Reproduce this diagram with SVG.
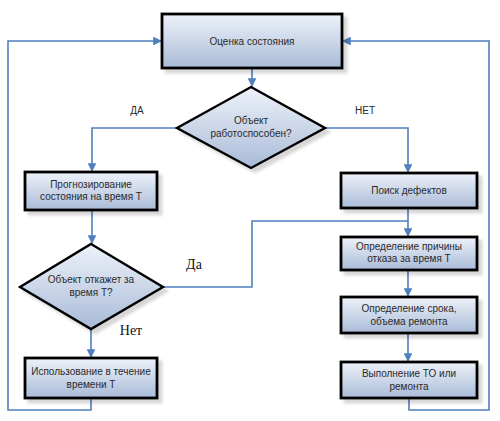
<svg xmlns="http://www.w3.org/2000/svg" width="500" height="421" viewBox="0 0 500 421">
<style>
.box{fill:url(#g);stroke:#000;stroke-width:2.8;filter:url(#sh)}
.dia{fill:url(#g);stroke:#000;stroke-width:2.4;stroke-linejoin:miter;filter:url(#sh)}
.t{font-family:"Liberation Sans",Arial,sans-serif;font-size:10px;fill:#2a2a2a;text-anchor:middle}
.l{font-family:"Liberation Serif","Times New Roman",serif;font-size:14px;fill:#111;text-anchor:middle}
.c{fill:none;stroke:#4f7fbd;stroke-width:1.6}
</style>
<defs>
<linearGradient id="g" x1="0" y1="0" x2="0" y2="1">
<stop offset="0" stop-color="#eef2f9"/>
<stop offset="1" stop-color="#a9bbd8"/>
</linearGradient>
<filter id="sh" x="-10%" y="-10%" width="130%" height="140%">
<feGaussianBlur in="SourceAlpha" stdDeviation="1.5"/>
<feOffset dx="4" dy="4" result="b"/>
<feFlood flood-color="#000" flood-opacity="0.16"/>
<feComposite in2="b" operator="in" result="s"/>
<feMerge><feMergeNode in="s"/><feMergeNode in="SourceGraphic"/></feMerge>
</filter>
<marker id="a" viewBox="0 0 10 10" refX="10" refY="5" markerWidth="5.5" markerHeight="5.5" orient="auto" markerUnits="strokeWidth">
<path d="M0,0 L10,5 L0,10 z" fill="#4f7fbd"/>
</marker>
</defs>
<g id="connectors">
<path class="c" d="M91,398 V410 H8 V41 H162" marker-end="url(#a)"/>
<path class="c" d="M409,398 V410 H489 V41 H342" marker-end="url(#a)"/>
<path class="c" d="M252,68 V87" marker-end="url(#a)"/>
<path class="c" d="M177,128 H92 V172" marker-end="url(#a)"/>
<path class="c" d="M325,128 H408 V173" marker-end="url(#a)"/>
<path class="c" d="M92,210 V244" marker-end="url(#a)"/>
<path class="c" d="M91,329 V358" marker-end="url(#a)"/>
<path class="c" d="M163,287 H252 V221 H408"/>
<path class="c" d="M408,208 V237" marker-end="url(#a)"/>
<path class="c" d="M408,270 V297" marker-end="url(#a)"/>
<path class="c" d="M408,333 V362" marker-end="url(#a)"/>
<text class="t" x="137" y="114">ДА</text>
<text class="t" x="365" y="114">НЕТ</text>
<text class="l" x="194" y="269">Да</text>
<text class="l" x="131" y="335">Нет</text>
</g>
<g id="n1"><rect class="box" x="162" y="14" width="180" height="54"/><text class="t" x="252" y="45">Оценка состояния</text></g>
<g id="n2"><polygon class="dia" points="251,87 325,128 251,168 177,128"/><text class="t" x="251" y="124">Объект</text><text class="t" x="251" y="137">работоспособен?</text></g>
<g id="n3"><rect class="box" x="25" y="172" width="132" height="38"/><text class="t" x="91" y="188">Прогнозирование</text><text class="t" x="91" y="200">состояния на время Т</text></g>
<g id="n4"><polygon class="dia" points="91,244 163,287 91,329 20,287"/><text class="t" x="91" y="283">Объект откажет за</text><text class="t" x="91" y="296">время Т?</text></g>
<g id="n5"><rect class="box" x="25" y="358" width="132" height="40"/><text class="t" x="91" y="375">Использование в течение</text><text class="t" x="91" y="388">времени Т</text></g>
<g id="n6"><rect class="box" x="341" y="173" width="136" height="35"/><text class="t" x="409" y="194">Поиск дефектов</text></g>
<g id="n7"><rect class="box" x="341" y="237" width="136" height="33"/><text class="t" x="409" y="250">Определение причины</text><text class="t" x="409" y="262">отказа за время Т</text></g>
<g id="n8"><rect class="box" x="341" y="297" width="136" height="36"/><text class="t" x="409" y="312">Определение срока,</text><text class="t" x="409" y="325">объема ремонта</text></g>
<g id="n9"><rect class="box" x="341" y="362" width="136" height="36"/><text class="t" x="409" y="377">Выполнение ТО или</text><text class="t" x="409" y="390">ремонта</text></g>
</svg>
